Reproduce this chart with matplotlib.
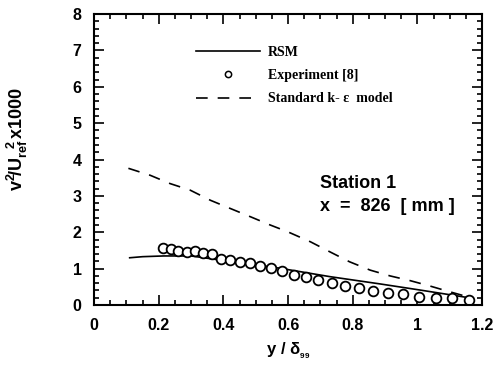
import matplotlib
matplotlib.use("Agg")
import matplotlib.pyplot as plt
from matplotlib.ticker import MultipleLocator, FixedLocator
import numpy as np

plt.rcParams["mathtext.fontset"] = "custom"
plt.rcParams["mathtext.rm"] = "Liberation Sans:bold"
plt.rcParams["mathtext.it"] = "Liberation Sans:bold"
plt.rcParams["mathtext.bf"] = "Liberation Sans:bold"

# experiment [8]
exp_x = [0.214, 0.237, 0.261, 0.287, 0.313, 0.338, 0.364, 0.392, 0.421, 0.452,
         0.483, 0.514, 0.547, 0.581, 0.617, 0.656, 0.694, 0.736, 0.777, 0.818,
         0.863, 0.908, 0.956, 1.004, 1.056, 1.107, 1.159]
exp_y = [1.58, 1.54, 1.49, 1.46, 1.49, 1.42, 1.39, 1.27, 1.24, 1.19,
         1.15, 1.06, 1.01, 0.93, 0.83, 0.76, 0.69, 0.60, 0.52, 0.46,
         0.39, 0.34, 0.29, 0.23, 0.19, 0.18, 0.15]

# RSM
rsm_x = [0.11, 0.15, 0.215, 0.30, 0.38, 0.45, 0.576, 0.73, 0.885, 1.01, 1.11, 1.16]
rsm_y = [1.30, 1.33, 1.35, 1.35, 1.25, 1.17, 1.01, 0.78, 0.58, 0.41, 0.27, 0.20]

# standard k-epsilon
ke_x = [0.106, 0.173, 0.235, 0.297, 0.36, 0.42, 0.483, 0.545, 0.60, 0.669,
        0.73, 0.79, 0.854, 0.916, 0.978, 1.04, 1.09, 1.154]
ke_y = [3.76, 3.57, 3.34, 3.16, 2.88, 2.66, 2.43, 2.20, 2.01, 1.74,
        1.46, 1.19, 0.96, 0.80, 0.67, 0.52, 0.39, 0.23]

xticks = [0, 0.2, 0.4, 0.6, 0.8, 1.0, 1.2]
xticklabels = ["0", "0.2", "0.4", "0.6", "0.8", "1", "1.2"]
yticks = [0, 1, 2, 3, 4, 5, 6, 7, 8]

fig = plt.figure(figsize=(4.98, 3.72), dpi=100)
ax = fig.add_axes([0.189, 0.180, 0.779, 0.782])

ax.plot(rsm_x, rsm_y, color="black", lw=1.2, label="RSM")
ax.plot(exp_x, exp_y, ls="none", marker="o", ms=7, mfc="white", mec="black",
        mew=1.3, label="Experiment [8]")
ax.plot(ke_x, ke_y, color="black", lw=1.2, dashes=(7, 6),
        label="Standard k- \u03b5  model")

ax.set_xlim(0, 1.2)
ax.set_ylim(0, 8)
ax.xaxis.set_major_locator(FixedLocator(xticks))
ax.set_xticklabels(xticklabels)
ax.yaxis.set_major_locator(FixedLocator(yticks))
ax.xaxis.set_minor_locator(MultipleLocator(0.05))
ax.yaxis.set_minor_locator(MultipleLocator(0.2))
ax.tick_params(which="both", direction="in", top=True, right=True, width=1.2)
ax.tick_params(which="major", length=7, labelsize=11.5, pad=9)
ax.tick_params(which="minor", length=3.5)
for lab in ax.get_xticklabels() + ax.get_yticklabels():
    lab.set_fontweight("bold")
    lab.set_family("Liberation Sans")
for sp in ax.spines.values():
    sp.set_linewidth(1.5)

ax.set_xlabel(r"$y\ /\ \delta_{_{99}}$", fontsize=12, labelpad=6)
ax.set_ylabel(r"$v^2\!/U_{ref}^{\ \ 2}\,x1000$", fontsize=13)
ax.yaxis.set_label_coords(-0.165, 0.57)

leg = ax.legend(loc="upper left", bbox_to_anchor=(0.23, 0.935), frameon=False,
                handlelength=4.6, labelspacing=0.75, handletextpad=0.6,
                prop={"family": "Liberation Serif", "weight": "bold", "size": 10})
leg.legend_handles[1].set_markersize(4.5)
leg.legend_handles[1].set_markeredgewidth(1.1)

ax.text(0.582, 0.402, "Station 1", transform=ax.transAxes, fontsize=13,
        fontweight="bold", family="Liberation Sans")
ax.text(0.582, 0.323, "x  =  826  [ mm ]", transform=ax.transAxes, fontsize=13,
        fontweight="bold", family="Liberation Sans")

fig.savefig("out.png", dpi=100)
